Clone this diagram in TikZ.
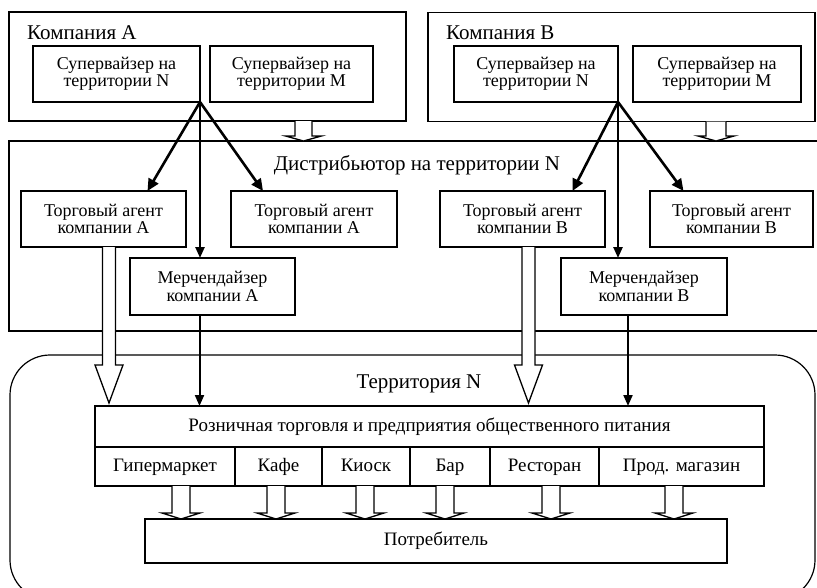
\documentclass[tikz,border=0pt]{standalone}
\usepackage{fontspec}
\setmainfont{Liberation Serif}
\usetikzlibrary{arrows.meta,calc,positioning}
\newcommand{\boxfont}{\fontsize{18}{17.5}\selectfont}
\newcommand{\rowfont}{\fontsize{19}{20}\selectfont}
\newcommand{\titlefont}{\fontsize{21}{22}\selectfont}
\tikzset{box/.style={draw,line width=1.3pt,align=center,inner sep=2pt,outer sep=0pt,font=\boxfont},
  frame/.style={box,minimum height=109},
  cell/.style={box,minimum height=39,font=\rowfont,text height=13pt,text depth=4pt},
  arr/.style={-{Triangle[length=12pt,width=11pt]},line width=2.6pt},
  varr/.style={-{Triangle[length=11pt,width=9pt]},line width=2pt},
  hollow/.style={line width=1.3pt,fill=white,line join=miter}}
% hollow block arrow: top, tip, shaft half width, head half width, head length
\newcommand{\hollowarrow}[5]{%
  \draw[hollow] ($(#1)+(-#3,0)$) -- ($(#2)+(-#3,-#5)$) -- ($(#2)+(-#4,-#5)$) -- (#2)
    -- ($(#2)+(#4,-#5)$) -- ($(#2)+(#3,-#5)$) -- ($(#1)+(#3,0)$);}
\begin{document}
\begin{tikzpicture}[x=1pt,y=-1pt,>=Stealth]
\useasboundingbox (0,0) rectangle (817,587);
\clip (0,0) rectangle (817,587);
% companies
\node[frame,minimum width=397] (compA) at (207.5,66.5) {};
\node[frame,minimum width=387] (compB) at (621.5,67) {};
\node[anchor=west,font=\titlefont,inner sep=0pt] (labA) at (27,33) {Компания A};
\node[anchor=west,font=\titlefont,inner sep=0pt] (labB) at (446,33) {Компания B};
\node[box,minimum width=167,minimum height=56] (supAN) at (116.5,74) {Супервайзер на\\территории N};
\node[box,minimum width=163,minimum height=56] (supAM) at (291.5,74) {Супервайзер на\\территории M};
\node[box,minimum width=164,minimum height=56] (supBN) at (536,74) {Супервайзер на\\территории N};
\node[box,minimum width=168,minimum height=56] (supBM) at (717,74) {Супервайзер на\\территории M};
% distributor
\node[box,minimum width=812,minimum height=190] (dist) at (415,236) {};
\node[font=\titlefont,inner sep=0pt] (labD) at (417,165) {Дистрибьютор на территории N};
\node[box,minimum width=165,minimum height=56] (agA1) at (103.5,219) {Торговый агент\\компании A};
\node[box,minimum width=166,minimum height=56] (agA2) at (314,219) {Торговый агент\\компании A};
\node[box,minimum width=165,minimum height=57] (merA) at (212.5,286.5) {Мерчендайзер\\компании A};
\node[box,minimum width=165,minimum height=56] (agB1) at (522.5,219) {Торговый агент\\компании B};
\node[box,minimum width=163,minimum height=56] (agB2) at (731.5,219) {Торговый агент\\компании B};
\node[box,minimum width=166,minimum height=57] (merB) at (644,286.5) {Мерчендайзер\\компании B};
% territory
\node[draw,line width=1.2pt,rounded corners=40,minimum width=805,minimum height=245] (terr) at (412.5,477.5) {};
\node[font=\titlefont,inner sep=0pt] (labT) at (419,384) {Территория N};
\node[box,font=\rowfont,minimum width=669,minimum height=41] (retail) at (429.5,426.5) {Розничная торговля и предприятия общественного питания};
\node[cell,minimum width=140,anchor=north west] (c1) at (retail.south west) {Гипермаркет};
\node[cell,minimum width=87,right=0pt of c1] (c2) {Кафе};
\node[cell,minimum width=88,right=0pt of c2] (c3) {Киоск};
\node[cell,minimum width=80,right=0pt of c3] (c4) {Бар};
\node[cell,minimum width=109,right=0pt of c4] (c5) {Ресторан};
\node[cell,minimum width=165,right=0pt of c5] (c6) {Прод. магазин};
\node[box,font=\rowfont,minimum width=582,minimum height=44] (cons) at (436,541) {Потребитель};
% supervisors to field staff
\draw[arr] (supAN.south east) -- ($(agA1.north)+(44,0)$);
\draw[arr] (supAN.south east) -- ($(agA2.north)+(-51,0)$);
\draw[varr,line width=2.4pt] (supAN.south east) -- (supAN.south east |- merA.north);
\draw[arr] (supBN.south east) -- ($(agB1.north)+(50,0)$);
\draw[arr] (supBN.south east) -- ($(agB2.north)+(-48,0)$);
\draw[varr,line width=2.4pt] (supBN.south east) -- (supBN.south east |- merB.north);
% merchandisers to retail
\coordinate (mA) at ($(merA.south)+(-13,0)$);
\coordinate (mB) at ($(merB.south)+(-16,0)$);
\draw[varr] (mA) -- (mA |- retail.north);
\draw[varr] (mB) -- (mB |- retail.north);
% agents to retail
\coordinate (hA) at ($(agA1.south)+(5.5,0)$);
\coordinate (hAt) at ($(hA |- retail.north)+(0,-3)$);
\hollowarrow{hA}{hAt}{6.5}{14}{38}
\coordinate (hB) at ($(agB1.south)+(6,0)$);
\coordinate (hBt) at ($(hB |- retail.north)+(0,-3)$);
\hollowarrow{hB}{hBt}{6.5}{14}{38}
% companies to distributor
\coordinate (sA) at (303.5,0 |- compA.south);
\coordinate (sAt) at (sA |- dist.north);
\hollowarrow{sA}{sAt}{8.5}{18}{5}
\coordinate (sB) at (716,0 |- compB.south);
\coordinate (sBt) at (sB |- dist.north);
\hollowarrow{sB}{sBt}{10}{18}{5}
% outlets to consumer
\foreach \c/\dx in {c1/16,c2/-2.5,c3/-1,c4/-5,c5/6.5,c6/-7.5}{
  \coordinate (o\c) at ($(\c.south)+(\dx,0)$);
  \coordinate (t\c) at (o\c |- cons.north);
  \hollowarrow{o\c}{t\c}{9}{19}{6}
}
\end{tikzpicture}
\end{document}
